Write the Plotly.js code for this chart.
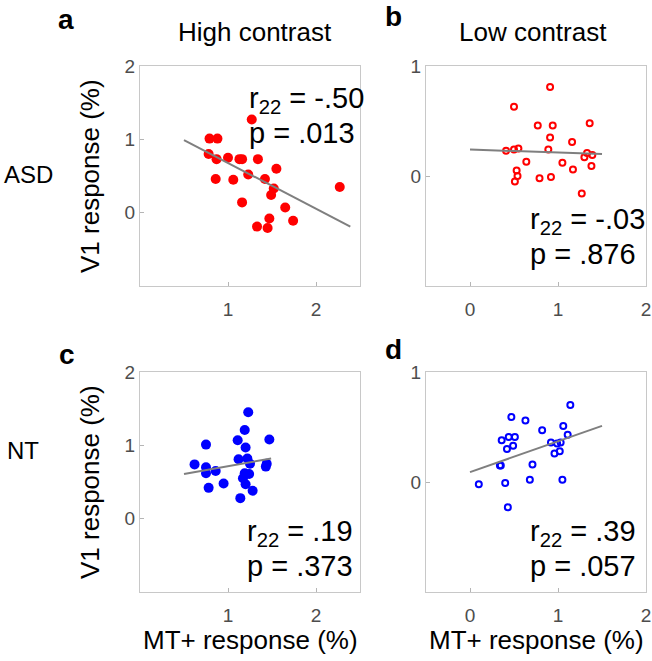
<!DOCTYPE html>
<html>
<head>
<meta charset="utf-8">
<script src="https://cdn.plot.ly/plotly-3.0.1.min.js"></script>
<style>
  html, body { margin: 0; padding: 0; background: #fff; }
  #chart { width: 652px; height: 661px; }
</style>
</head>
<body>
<div id="chart"></div>
<script>
// ASD, high contrast (filled red)
var asdHighX = [1.27, 0.79, 0.88, 0.78, 0.87, 1.00, 1.13, 1.16, 1.34, 1.55, 0.86, 1.06, 1.23, 1.42, 1.52, 1.49, 2.27, 1.16, 1.65, 1.74, 1.47, 1.33, 1.45];
var asdHighY = [1.27, 1.01, 1.01, 0.80, 0.73, 0.75, 0.73, 0.73, 0.73, 0.60, 0.46, 0.45, 0.52, 0.46, 0.33, 0.24, 0.35, 0.14, 0.07, -0.11, -0.08, -0.19, -0.21];
// ASD, low contrast (open red)
var asdLowX = [0.91, 0.50, 0.77, 0.94, 1.36, 0.91, 1.16, 0.41, 0.50, 0.55, 0.89, 1.33, 1.39, 1.30, 0.64, 1.05, 1.38, 1.17, 0.53, 0.54, 0.51, 0.79, 0.92, 1.27];
var asdLowY = [0.81, 0.63, 0.46, 0.46, 0.48, 0.35, 0.31, 0.23, 0.24, 0.25, 0.24, 0.21, 0.19, 0.17, 0.13, 0.12, 0.09, 0.06, 0.05, 0.00, -0.05, -0.02, -0.01, -0.16];
// NT, high contrast (filled blue)
var ntHighX = [1.23, 1.19, 1.11, 1.47, 0.75, 1.20, 1.12, 1.22, 1.25, 1.44, 1.43, 0.62, 0.75, 0.75, 0.86, 1.19, 1.24, 1.17, 0.95, 1.20, 0.78, 1.28, 1.14];
var ntHighY = [1.45, 1.21, 1.07, 1.08, 1.01, 0.97, 0.81, 0.82, 0.75, 0.75, 0.71, 0.74, 0.70, 0.62, 0.65, 0.62, 0.61, 0.55, 0.48, 0.47, 0.42, 0.38, 0.28];
// NT, low contrast (open blue)
var ntLowX = [1.14, 0.47, 0.63, 1.06, 1.11, 0.82, 0.36, 0.44, 0.51, 0.49, 0.42, 0.92, 0.99, 1.03, 1.02, 0.96, 0.34, 0.35, 0.71, 0.10, 0.40, 0.68, 1.05, 0.43];
var ntLowY = [0.70, 0.59, 0.56, 0.51, 0.43, 0.47, 0.38, 0.41, 0.41, 0.33, 0.30, 0.36, 0.35, 0.36, 0.28, 0.26, 0.15, 0.15, 0.16, -0.02, -0.01, 0.02, 0.02, -0.23];

// regression lines (end points)
var fitAsdHighX = [0.5, 2.39], fitAsdHighY = [0.99, -0.19];
var fitAsdLowX = [0, 1.5], fitAsdLowY = [0.24, 0.20];
var fitNtHighX = [0.5, 1.49], fitNtHighY = [0.61, 0.82];
var fitNtLowX = [0, 1.5], fitNtLowY = [0.09, 0.51];

var stats = [['-.50', '.013'], ['-.03', '.876'], ['.19', '.373'], ['.39', '.057']];

var FONT = 'Liberation Sans, Arial, Helvetica, sans-serif';
var red = '#ff0000', blue = '#0000ff', grey = '#7f7f7f';

function dots(x, y, ax, col) {
  return {x: x, y: y, xaxis: 'x' + ax, yaxis: 'y' + ax, type: 'scatter', mode: 'markers',
    marker: {color: col, size: 10, line: {width: 0}}, hoverinfo: 'skip'};
}
function rings(x, y, ax, col) {
  return {x: x, y: y, xaxis: 'x' + ax, yaxis: 'y' + ax, type: 'scatter', mode: 'markers',
    marker: {symbol: 'circle-open', color: col, size: 6, line: {width: 2, color: col}}, hoverinfo: 'skip'};
}
function fit(x, y, ax) {
  return {x: x, y: y, xaxis: 'x' + ax, yaxis: 'y' + ax, type: 'scatter', mode: 'lines',
    line: {color: grey, width: 2}, hoverinfo: 'skip'};
}

var data = [
  dots(asdHighX, asdHighY, '', red), fit(fitAsdHighX, fitAsdHighY, ''),
  rings(asdLowX, asdLowY, '2', red), fit(fitAsdLowX, fitAsdLowY, '2'),
  dots(ntHighX, ntHighY, '3', blue), fit(fitNtHighX, fitNtHighY, '3'),
  rings(ntLowX, ntLowY, '4', blue), fit(fitNtLowX, fitNtLowY, '4')
];

function xax(dom, rng, ticks, anchor) {
  return {domain: dom, range: rng, tickvals: ticks, anchor: anchor, ticks: 'inside', ticklen: 4,
    tickcolor: '#b5b5b5', showline: true, linecolor: '#c8c8c8', linewidth: 1, mirror: true,
    showgrid: false, zeroline: false, ticklabelstandoff: 6,
    tickfont: {family: FONT, size: 19, color: '#4d4d4d'}};
}
function yax(dom, rng, ticks, anchor) {
  return {domain: dom, range: rng, tickvals: ticks, anchor: anchor, ticks: 'inside', ticklen: 4,
    tickcolor: '#b5b5b5', showline: true, linecolor: '#c8c8c8', linewidth: 1, mirror: true,
    showgrid: false, zeroline: false,
    tickfont: {family: FONT, size: 19, color: '#4d4d4d'}};
}

var colL = [140 / 652, 360 / 652], colR = [426 / 652, 646 / 652];
var rowT = [375 / 661, 595 / 661], rowB = [69 / 661, 289 / 661];

var ann = [];
function txt(s, x, y, size, opts) {
  var a = {text: s, x: x, y: y, xref: 'paper', yref: 'paper', showarrow: false,
    xanchor: 'center', yanchor: 'middle', font: {family: FONT, size: size, color: '#000'}};
  for (var k in opts) a[k] = opts[k];
  ann.push(a);
}
function px(x) { return x / 652; }
function py(y) { return 1 - y / 661; }

// column / row labels and panel letters
txt('High contrast', px(255), py(32), 26);
txt('Low contrast', px(533), py(32), 26);
txt('ASD', px(28), py(174), 24);
txt('NT', px(23), py(450), 24);
txt('<b>a</b>', px(66), py(20), 28);
txt('<b>b</b>', px(394), py(16), 28);
txt('<b>c</b>', px(67), py(354), 28);
txt('<b>d</b>', px(394), py(349), 28);
// axis titles
txt('V1 response (%)', px(90), py(176), 26, {textangle: -90});
txt('V1 response (%)', px(90), py(482), 26, {textangle: -90});
txt('MT+ response (%)', px(250), py(640), 26);
txt('MT+ response (%)', px(536), py(640), 26);
// stats
var statPos = [[247, 100], [528, 221], [245, 533], [528, 533]];
for (var i = 0; i < 4; i++) {
  txt('r<sub>22</sub> = ' + stats[i][0], px(statPos[i][0]), py(statPos[i][1]), 29, {xanchor: 'left'});
  txt('p = ' + stats[i][1], px(statPos[i][0]), py(statPos[i][1] + 33), 29, {xanchor: 'left'});
}

var layout = {
  width: 652, height: 661,
  margin: {l: 0, r: 0, t: 0, b: 0},
  paper_bgcolor: '#fff', plot_bgcolor: '#fff',
  showlegend: false,
  font: {family: FONT},
  xaxis: xax(colL, [0, 2.5], [1, 2], 'y'),
  yaxis: yax(rowT, [-1, 2], [0, 1, 2], 'x'),
  xaxis2: xax(colR, [-0.5, 2], [0, 1, 2], 'y2'),
  yaxis2: yax(rowT, [-1, 1], [0, 1], 'x2'),
  xaxis3: xax(colL, [0, 2.5], [1, 2], 'y3'),
  yaxis3: yax(rowB, [-1, 2], [0, 1, 2], 'x3'),
  xaxis4: xax(colR, [-0.5, 2], [0, 1, 2], 'y4'),
  yaxis4: yax(rowB, [-1, 1], [0, 1], 'x4'),
  annotations: ann
};

Plotly.newPlot('chart', data, layout, {staticPlot: true, displayModeBar: false});
</script>
</body>
</html>
